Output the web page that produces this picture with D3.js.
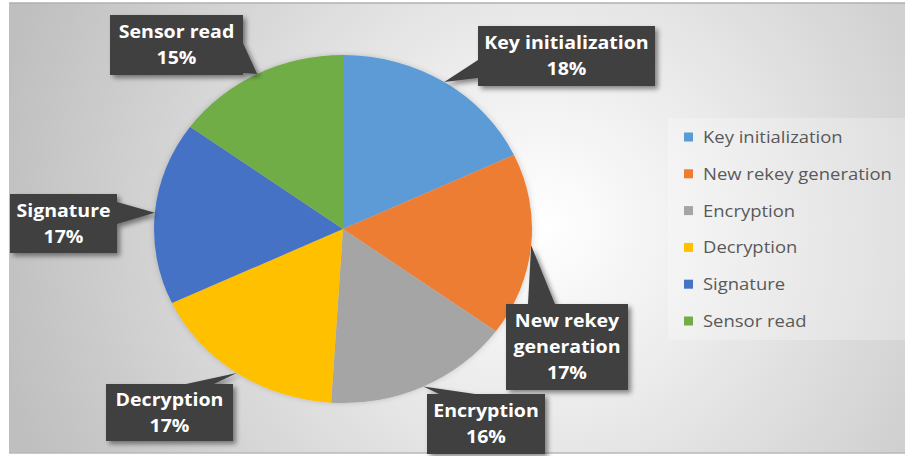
<!DOCTYPE html>
<html>
<head>
<meta charset="utf-8">
<script src="https://cdn.jsdelivr.net/npm/d3@7"></script>
<style>
  body { margin: 0; background: #fff; }
  svg { display: block; }
</style>
</head>
<body>
<div id="chart"></div>
<script>
// chart data
const categories = ["Key initialization", "New rekey generation", "Encryption", "Decryption", "Signature", "Sensor read"];
const shares = [18, 17, 16, 17, 17, 15];
const colors = ["#5B9BD5", "#ED7D31", "#A5A5A5", "#FFC000", "#4472C4", "#70AD47"];
// label text lines as shown in the callouts
const labelLines = [["Key initialization"], ["New rekey", "generation"], ["Encryption"], ["Decryption"], ["Signature"], ["Sensor read"]];

// callout box layout: x, y, w, h and where the tail leaves the box
const boxes = [
    {x: 478, y: 26, w: 177, h: 60, base: [[0, 34], [0, 52]]},
    {x: 506, y: 304, w: 122, h: 86, base: [[22, 0], [49, 0]]},
    {x: 427, y: 394, w: 118, h: 60, base: [[12, 0], [48, 0]]},
    {x: 106, y: 384, w: 127, h: 57, base: [[80, 0], [108, 0]]},
    {x: 10, y: 194, w: 107, h: 59, base: [[107, 8], [107, 30]]},
    {x: 110, y: 15, w: 133, h: 60, base: [[133, 28], [133, 58]]}
];

const W = 905, H = 456;
const cx = 343, cy = 229, rx = 189, ry = 174;
const sx = rx / ry; // the whole picture is a bit wider than tall

const svg = d3.select("#chart").append("svg")
    .attr("width", W)
    .attr("height", H);

const defs = svg.append("defs");
const bg = defs.append("radialGradient")
    .attr("id", "bg")
    .attr("gradientUnits", "userSpaceOnUse")
    .attr("cx", 545).attr("cy", 225).attr("r", 560);
bg.append("stop").attr("offset", "0%").attr("stop-color", "#ffffff");
bg.append("stop").attr("offset", "35%").attr("stop-color", "#eaeaea");
bg.append("stop").attr("offset", "100%").attr("stop-color", "#bfbfbf");

const shadow = defs.append("filter").attr("id", "shadow")
    .attr("x", "-20%").attr("y", "-20%").attr("width", "150%").attr("height", "150%");
shadow.append("feDropShadow")
    .attr("dx", 3).attr("dy", 3).attr("stdDeviation", 2.5)
    .attr("flood-color", "#000").attr("flood-opacity", 0.45);

const pieShadow = defs.append("filter").attr("id", "pieShadow")
    .attr("x", "-20%").attr("y", "-20%").attr("width", "140%").attr("height", "140%");
pieShadow.append("feDropShadow")
    .attr("dx", 0).attr("dy", 0).attr("stdDeviation", 3)
    .attr("flood-color", "#000").attr("flood-opacity", 0.18);

// chart area
svg.append("rect")
    .attr("x", 9).attr("y", 3)
    .attr("width", W - 9).attr("height", 450)
    .attr("fill", "url(#bg)");
svg.append("line")
    .attr("x1", 9).attr("x2", W).attr("y1", 3).attr("y2", 3)
    .attr("stroke", "#b0b0b0").attr("stroke-width", 1.5);
svg.append("line")
    .attr("x1", 9).attr("x2", W).attr("y1", 453).attr("y2", 453)
    .attr("stroke", "#b8b8b8").attr("stroke-width", 1.5);

// pie
const pie = d3.pie().sort(null).value(d => d);
const arcs = pie(shares);
const arc = d3.arc().innerRadius(0).outerRadius(rx);
const rim = d3.arc().innerRadius(rx).outerRadius(rx);

const pieG = svg.append("g")
    .attr("transform", `translate(${cx},${cy}) scale(1,${ry / rx})`)
    .attr("filter", "url(#pieShadow)");
pieG.selectAll("path")
    .data(arcs)
    .join("path")
    .attr("d", arc)
    .attr("fill", (d, i) => colors[i]);

// callouts
const font = "'Open Sans', Lato, sans-serif";
arcs.forEach((d, i) => {
    const c = rim.centroid(d);
    const tip = [cx + c[0], cy + c[1] * ry / rx];
    const b = boxes[i];
    const g = svg.append("g").attr("filter", "url(#shadow)");
    const path = d3.path();
    path.moveTo(b.x + b.base[0][0], b.y + b.base[0][1]);
    path.lineTo(tip[0], tip[1]);
    path.lineTo(b.x + b.base[1][0], b.y + b.base[1][1]);
    path.closePath();
    g.append("rect")
        .attr("x", b.x).attr("y", b.y)
        .attr("width", b.w).attr("height", b.h)
        .attr("fill", "#404040");
    g.append("path")
        .attr("d", path.toString())
        .attr("fill", "#404040");
    const lines = labelLines[i].concat([shares[i] + "%"]);
    const lh = 26;
    const y0 = b.y + b.h / 2 - (lines.length - 1) * lh / 2;
    svg.append("g")
        .attr("transform", `translate(${b.x + b.w / 2},${y0}) scale(${sx},1)`)
        .append("text")
        .attr("text-anchor", "middle")
        .attr("font-family", font)
        .attr("font-weight", "bold")
        .attr("font-size", 18)
        .attr("fill", "#ffffff")
        .selectAll("tspan")
        .data(lines)
        .join("tspan")
        .attr("x", 0)
        .attr("y", (t, k) => k * lh)
        .attr("dy", "0.35em")
        .text(t => t);
});

// legend
const legend = svg.append("g");
legend.append("rect")
    .attr("x", 668).attr("y", 118)
    .attr("width", 237).attr("height", 222)
    .attr("fill", "#ffffff").attr("fill-opacity", 0.25);
const ly = d3.scalePoint().domain(categories).range([137, 321]);
const items = legend.selectAll("g.item")
    .data(categories)
    .join("g")
    .attr("class", "item")
    .attr("transform", d => `translate(684,${ly(d)})`);
items.append("rect")
    .attr("x", 0).attr("y", -4.5)
    .attr("width", 9).attr("height", 9)
    .attr("fill", (d, i) => colors[i]);
items.append("g")
    .attr("transform", `translate(19,0) scale(${sx},1)`)
    .append("text")
    .attr("dy", "0.35em")
    .attr("font-family", font)
    .attr("font-size", 17)
    .attr("fill", "#595959")
    .text(d => d);
</script>
</body>
</html>
